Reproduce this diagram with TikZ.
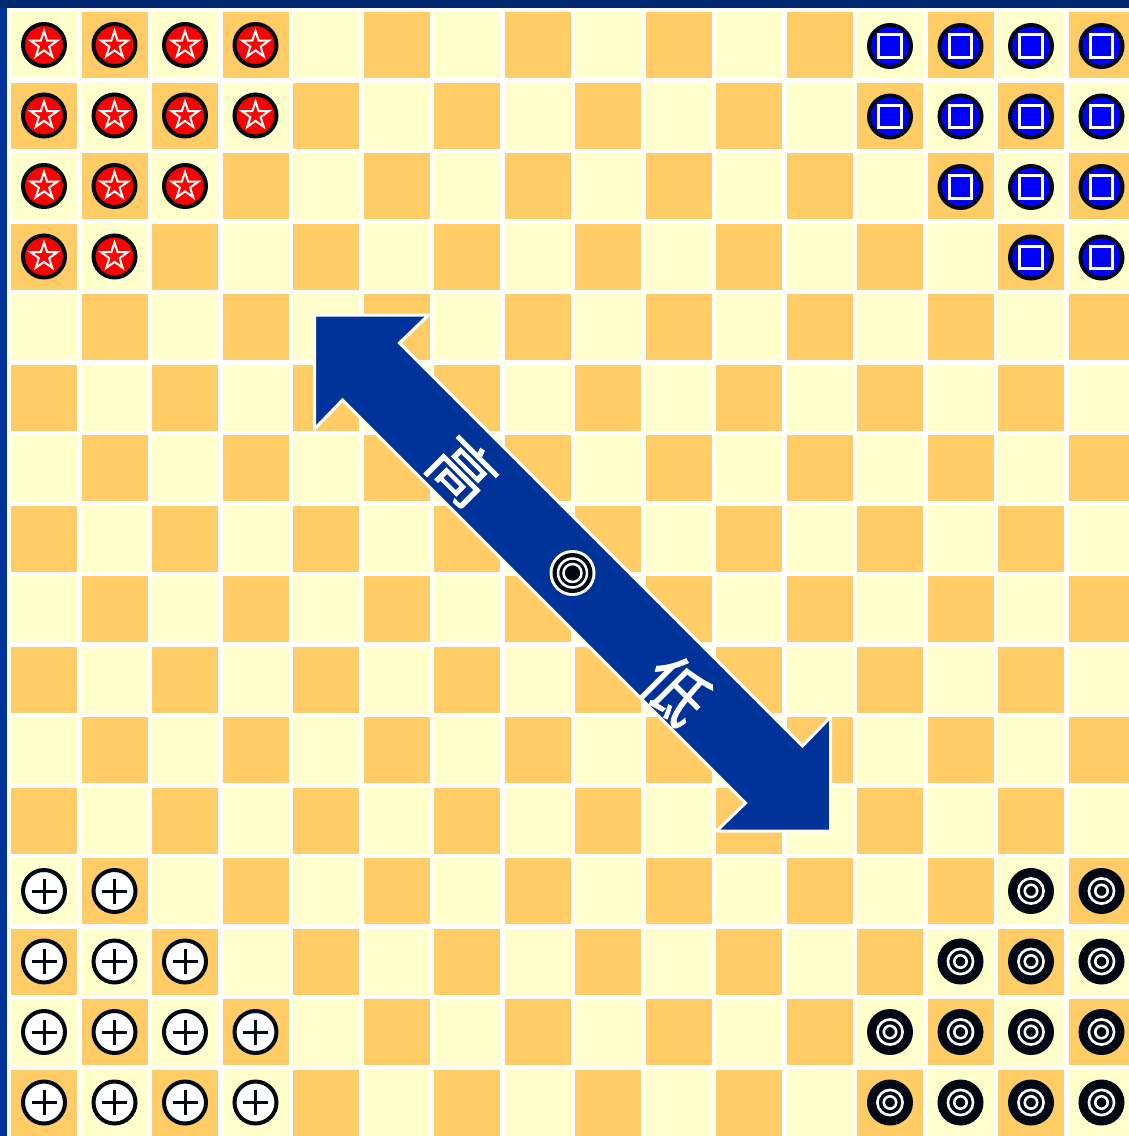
\documentclass[tikz,border=0pt]{standalone}
\usepackage{fontspec}
\newfontfamily\cjk[FakeBold=1.2]{Noto Sans CJK SC}
\definecolor{lightsq}{HTML}{FFFFCC}
\definecolor{darksq}{HTML}{FFCC66}
\definecolor{navy}{HTML}{003399}
\definecolor{navytop}{HTML}{00286E}
\definecolor{pieceblack}{HTML}{000814}
\definecolor{piecered}{HTML}{FF0000}
\definecolor{pieceblue}{HTML}{0000FF}
\tikzset{
  redpiece/.pic={
    \fill[piecered] (0,0) circle (21);
    \draw[pieceblack, line width=4] (0,0) circle (21);
    \draw[white, line width=2, line join=miter]
      (-90:14) -- (-54:5.4) -- (-18:14) -- (18:5.4) -- (54:14) -- (90:5.4)
      -- (126:14) -- (162:5.4) -- (198:14) -- (234:5.4) -- cycle;
  },
  bluepiece/.pic={
    \fill[pieceblue] (0,0) circle (21);
    \draw[pieceblack, line width=4] (0,0) circle (21);
    \draw[white, line width=3] (-11.2,-11.2) rectangle (11.2,11.2);
  },
  pluspiece/.pic={
    \fill[white] (0,0) circle (21);
    \draw[pieceblack, line width=4] (0,0) circle (21);
    \draw[pieceblack, line width=3] (-12.5,0) -- (12.5,0) (0,-12.5) -- (0,12.5);
  },
  targetpiece/.pic={
    \fill[pieceblack] (0,0) circle (23);
    \draw[white, line width=2.6] (0,0) circle (12.6) (0,0) circle (6.2);
  },
  arrowbody/.style={fill=navy, draw=white, line width=3, line join=miter},
  label/.style={rotate=-45, text=white, inner sep=0, font=\cjk\fontsize{64}{64}\selectfont}
}
\begin{document}
\begin{tikzpicture}[x=1pt,y=-1pt]
\useasboundingbox (0,0) rectangle (1129,1136);
\clip (0,0) rectangle (1129,1136);
\fill[white] (0,0) rectangle (1129,1136);
\fill[navy] (0,0) rectangle (7,1136);
\fill[navytop] (0,0) rectangle (1129,8);
% board
\foreach \i in {0,...,15}{
  \foreach \j in {0,...,15}{
    \pgfmathsetmacro\xx{11+70.5*\i}
    \pgfmathsetmacro\yy{12+70.5*\j}
    \pgfmathtruncatemacro\pp{\i+\j}
    \ifodd\pp
      \fill[darksq] (\xx,\yy) rectangle ++(66,66);
    \else
      \fill[lightsq] (\xx,\yy) rectangle ++(66,66);
    \fi
  }
}
% red pieces
\foreach \i/\j in {0/0,1/0,2/0,3/0,0/1,1/1,2/1,3/1,0/2,1/2,2/2,0/3,1/3}{
  \pic (red-\i-\j) at ({44+70.5*\i},{45+70.5*\j}) {redpiece};
}
% blue pieces
\foreach \i/\j in {12/0,13/0,14/0,15/0,12/1,13/1,14/1,15/1,13/2,14/2,15/2,14/3,15/3}{
  \pic (blue-\i-\j) at ({44+70.5*\i},{46+70.5*\j}) {bluepiece};
}
% plus pieces
\foreach \i/\j in {0/12,1/12,0/13,1/13,2/13,0/14,1/14,2/14,3/14,0/15,1/15,2/15,3/15}{
  \pic (plus-\i-\j) at ({44+70.5*\i},{45+70.5*\j}) {pluspiece};
}
% target pieces
\foreach \i/\j in {14/12,15/12,13/13,14/13,15/13,12/14,13/14,14/14,15/14,12/15,13/15,14/15,15/15}{
  \pic (tgt-\i-\j) at ({44+70.5*\i},{45+70.5*\j}) {targetpiece};
}
% double arrow
\coordinate (tl) at (314.5,315);
\coordinate (br) at (830.5,831);
\coordinate (mid) at (572.5,573);
\draw[arrowbody] (tl) -- ++(114,0) -- (399.5,343) -- (802.5,746) -- (830.5,717)
  -- (br) -- (716.5,831) -- (745.5,803) -- (342.5,400) -- (314.5,429) -- cycle;
% centre symbol
\fill[white] (mid) circle (23);
\fill[pieceblack] (mid) circle (20);
\draw[white, line width=2.5] (mid) circle (14.5) (mid) circle (9);
\node[label] (gao) at (463,471) {高};
\node[label] (di) at (676,690) {低};
\end{tikzpicture}
\end{document}
